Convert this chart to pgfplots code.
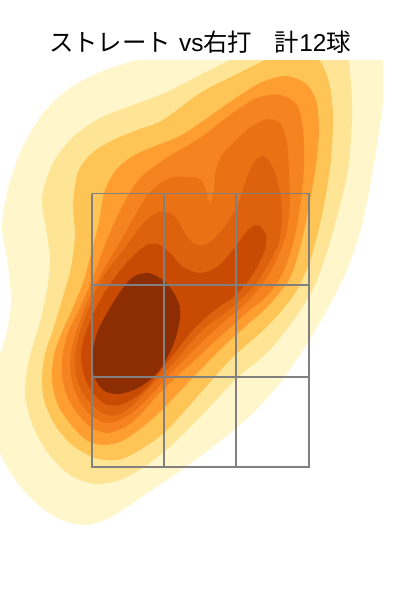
\documentclass[border=0pt]{standalone}
\usepackage{pgfplots}
\pgfplotsset{compat=1.18}
\usepackage{fontspec}
\setmainfont{Noto Sans CJK JP}
\newfontfamily\latinf{Liberation Sans}
\definecolor{c1}{HTML}{FFF7CB}
\definecolor{c2}{HTML}{FEE596}
\definecolor{c3}{HTML}{FEC456}
\definecolor{c4}{HTML}{FE9D30}
\definecolor{c5}{HTML}{F58420}
\definecolor{c6}{HTML}{EB7115}
\definecolor{c7}{HTML}{DE620E}
\definecolor{c8}{HTML}{C94B03}
\definecolor{c9}{HTML}{8C2D04}
\definecolor{gridc}{HTML}{808080}
\begin{document}
\begin{tikzpicture}[x=1pt,y=1pt]
\path (0,0) rectangle (300,450);
\begin{axis}[at={(0,0)},anchor=south west,scale only axis,width=287.25pt,height=405pt,
 xmin=0,xmax=383,ymin=60,ymax=600,y dir=reverse,hide axis,
 every axis plot/.append style={draw=none,no markers,smooth cycle}]
\addplot[fill=c1] coordinates {(100,72)(135,60)(175,45)(230,35)(290,35)(340,35)(386,40)(385,85)(380,125)(373,170)(362,225)(347,270)(327,310)(305,347)(280,383)(250,416)(215,445)(180,471)(140,498)(113,516)(88,525)(62,520)(38,505)(17,482)(0,452)(-8,405)(-3,365)(6,335)(11,303)(8,265)(2,228)(7,193)(20,153)(40,117)(67,90)};
\addplot[fill=c2] coordinates {(167,92)(200,75)(230,60)(265,42)(310,35)(345,50)(351,85)(352,120)(348,170)(340,205)(330,242)(315,285)(295,318)(268,352)(237,378)(205,412)(175,442)(147,465)(120,480)(95,484)(70,475)(48,453)(33,426)(25,394)(29,360)(40,322)(47,290)(50,260)(46,228)(42,197)(53,163)(73,137)(100,118)(133,105)};
\addplot[fill=c3] coordinates {(163,120)(200,93)(235,75)(270,58)(300,48)(318,58)(329,82)(333,115)(331,160)(323,210)(311,258)(297,290)(278,315)(258,335)(235,355)(212,380)(190,405)(165,432)(140,450)(118,460)(95,458)(72,445)(55,425)(44,400)(42,375)(46,350)(53,330)(62,300)(71,268)(75,235)(73,205)(78,172)(92,153)(113,140)(137,130)};
\addplot[fill=c4] coordinates {(200,123)(233,100)(260,83)(285,76)(305,83)(316,100)(319,130)(316,165)(310,200)(302,240)(290,278)(268,306)(247,325)(228,342)(205,365)(183,388)(160,412)(140,429)(122,441)(105,445)(88,441)(72,426)(58,405)(52,380)(54,355)(62,332)(72,310)(84,280)(92,250)(99,222)(104,193)(115,171)(133,156)(155,146)(178,137)};
\addplot[fill=c5] coordinates {(200,138)(230,115)(257,98)(280,95)(297,105)(303,130)(304,165)(301,200)(295,235)(285,268)(270,293)(250,310)(232,326)(213,343)(195,360)(175,378)(155,398)(140,415)(125,427)(108,433)(92,428)(78,414)(67,396)(62,375)(63,352)(70,328)(79,310)(92,280)(102,253)(112,228)(124,203)(140,178)(168,157)};
\addplot[fill=c6] coordinates {(150,192)(170,178)(193,177)(201,180)(206,190)(210,203)(214,190)(215,173)(222,155)(236,140)(252,126)(268,119)(281,124)(287,143)(289,172)(290,203)(286,235)(275,263)(262,285)(245,304)(225,321)(205,339)(187,357)(170,374)(152,394)(138,408)(124,418)(108,423)(93,417)(80,402)(73,385)(70,365)(73,342)(84,310)(94,287)(108,262)(123,237)(137,212)};
\addplot[fill=c7] coordinates {(163,211)(175,217)(184,232)(193,243)(204,245)(216,237)(228,222)(238,203)(246,180)(254,162)(264,156)(274,170)(280,192)(282,215)(279,242)(268,265)(255,285)(240,300)(225,313)(208,325)(193,340)(178,358)(163,374)(147,390)(133,405)(118,415)(105,414)(92,405)(82,392)(76,375)(75,356)(79,335)(88,310)(97,288)(110,267)(125,248)(140,227)(150,217)};
\addplot[fill=c8] coordinates {(147,245)(160,245)(171,254)(183,267)(200,273)(217,267)(233,250)(248,230)(258,225)(266,235)(265,250)(257,267)(246,284)(232,298)(216,309)(203,320)(190,333)(177,350)(163,368)(150,384)(136,397)(120,405)(105,404)(93,393)(85,378)(81,358)(84,338)(95,310)(110,284)(129,260)};
\addplot[fill=c9] coordinates {(148,273)(163,280)(174,293)(180,308)(179,325)(172,348)(158,372)(138,388)(118,394)(103,390)(94,376)(92,357)(97,333)(107,313)(120,292)(133,277)};
\addplot[sharp plot,draw=gridc,line width=1.3pt,line join=miter] coordinates {(91.7,193.5)(309.3,193.5)(309.3,467)(91.7,467)(91.7,193.5)};
\addplot[sharp plot,draw=gridc,line width=1.3pt] coordinates {(91.7,285.3)(309.3,285.3)};
\addplot[sharp plot,draw=gridc,line width=1.3pt] coordinates {(91.7,377.3)(309.3,377.3)};
\addplot[sharp plot,draw=gridc,line width=1.3pt] coordinates {(164.3,193.5)(164.3,467)};
\addplot[sharp plot,draw=gridc,line width=1.3pt] coordinates {(236.1,193.5)(236.1,467)};
\end{axis}
\node[anchor=center,font=\fontsize{18.3}{18.3}\selectfont,inner sep=0pt] at (150,418.5) {ストレート\hspace{6pt}{\latinf vs}右打\hspace{17pt}計{\latinf 12}球};
\end{tikzpicture}
\end{document}
